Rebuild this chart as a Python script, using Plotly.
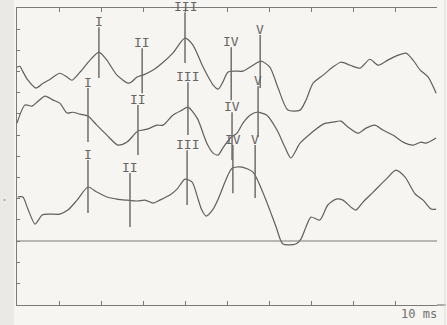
import plotly.graph_objects as go

# ---- waveform data: time (ms) and amplitude (divisions, baseline = 0) ----
t1 = [0.00, 0.07, 0.12, 0.26, 0.45, 0.62, 0.79, 1.02, 1.19, 1.31, 1.50, 1.74, 1.95, 2.14, 2.38,
      2.67, 2.86, 3.00, 3.24, 3.48, 3.71, 4.00, 4.19, 4.43, 4.67, 4.79, 4.90, 5.02, 5.21, 5.38,
      5.62, 5.81, 6.02, 6.21, 6.45, 6.74, 6.88, 7.05, 7.29, 7.52, 7.71, 7.93, 8.17, 8.40, 8.60,
      8.83, 9.02, 9.26, 9.43, 9.60, 9.79, 9.98]
a1 = [8.21, 8.25, 8.07, 7.59, 7.22, 7.45, 7.64, 7.92, 7.74, 7.59, 7.97, 8.54, 8.92, 8.54, 7.83,
      7.45, 7.74, 7.83, 8.07, 8.44, 8.87, 9.58, 9.25, 8.21, 7.36, 7.17, 7.50, 7.97, 8.02, 8.02,
      8.30, 8.49, 8.21, 7.26, 6.18, 6.18, 6.65, 7.45, 7.83, 8.21, 8.44, 8.30, 8.16, 8.58, 8.30,
      8.54, 8.73, 8.87, 8.54, 8.07, 7.74, 6.98]

t2 = [0.00, 0.19, 0.36, 0.48, 0.67, 0.86, 1.02, 1.19, 1.33, 1.50, 1.69, 1.90, 2.14, 2.40, 2.62,
      2.88, 3.10, 3.33, 3.48, 3.71, 3.93, 4.07, 4.29, 4.52, 4.67, 4.79, 4.90, 5.10, 5.24, 5.38,
      5.55, 5.71, 5.95, 6.19, 6.38, 6.52, 6.74, 7.00, 7.29, 7.52, 7.71, 7.88, 8.12, 8.31, 8.52,
      8.71, 8.95, 9.19, 9.43, 9.62, 9.74, 9.98]
a2 = [5.57, 6.42, 6.37, 6.56, 6.84, 6.65, 6.51, 6.04, 6.08, 5.99, 5.90, 5.47, 5.00, 4.53, 4.67,
      5.19, 5.28, 5.47, 5.47, 5.94, 6.18, 6.32, 5.80, 4.62, 4.15, 4.06, 4.39, 4.91, 5.09, 5.57,
      5.94, 6.08, 5.94, 5.24, 4.43, 3.92, 4.62, 5.09, 5.52, 5.61, 5.66, 5.38, 5.09, 5.33, 5.47,
      5.24, 5.00, 4.67, 4.53, 4.67, 4.62, 4.86]

t3 = [0.02, 0.14, 0.26, 0.43, 0.60, 0.79, 1.02, 1.21, 1.43, 1.69, 1.90, 2.14, 2.38, 2.62, 2.86,
      3.05, 3.24, 3.40, 3.64, 3.81, 4.00, 4.17, 4.29, 4.40, 4.50, 4.67, 4.83, 4.95, 5.12, 5.36,
      5.62, 5.83, 6.02, 6.17, 6.33, 6.64, 6.76, 6.88, 7.00, 7.21, 7.40, 7.60, 7.76, 7.95, 8.07,
      8.24, 8.48, 8.79, 9.02, 9.24, 9.48, 9.67, 9.86, 9.98]
a3 = [2.08, 2.08, 1.51, 0.80, 1.23, 1.27, 1.27, 1.46, 1.93, 2.55, 2.31, 2.08, 1.98, 1.93, 1.89,
      1.93, 1.79, 1.93, 2.17, 2.45, 2.92, 2.78, 2.12, 1.46, 1.18, 1.51, 2.17, 2.78, 3.44, 3.49,
      3.25, 2.41, 1.46, 0.66, -0.14, -0.14, 0.09, 0.66, 1.13, 0.99, 1.70, 1.98, 1.93, 1.60, 1.46,
      1.84, 2.31, 2.92, 3.35, 3.02, 2.22, 1.93, 1.51, 1.51]

# ---- wave markers (label, latency ms, marker top, marker bottom) ----
peak_labels = ["I", "II", "III", "IV", "V"]
m1_lat = [1.95, 2.98, 4.00, 5.10, 5.79]
m1_top = [10.09, 9.10, 10.80, 9.15, 9.72]
m1_bot = [7.69, 6.98, 8.40, 6.65, 7.22]
m2_lat = [1.69, 2.88, 4.07, 5.12, 5.74]
m2_top = [7.22, 6.42, 7.50, 6.08, 7.31]
m2_bot = [4.67, 4.06, 5.00, 3.82, 4.91]
m3_lat = [1.69, 2.69, 4.05, 5.14, 5.67]
m3_top = [3.82, 3.21, 4.29, 4.53, 4.53]
m3_bot = [1.32, 0.66, 1.70, 2.26, 2.03]

x_ticks = list(range(0, 11))
y_ticks = list(range(-3, 12))

CURVE = "#5f5f5f"
MARK = "#6e6e6e"
TXT = "#666666"
PAPER = "#f6f5f1"

fig = go.Figure()

for t, a in [(t1, a1), (t2, a2), (t3, a3)]:
    fig.add_trace(go.Scatter(x=t, y=a, mode="lines", line=dict(color=CURVE, width=1.2, shape="spline", smoothing=0.7),
                             hoverinfo="skip", showlegend=False))

annotations = []
for lat, top, bot in [(m1_lat, m1_top, m1_bot), (m2_lat, m2_top, m2_bot), (m3_lat, m3_top, m3_bot)]:
    xs, ys = [], []
    for lab, x, yt, yb in zip(peak_labels, lat, top, bot):
        xs += [x, x, None]
        ys += [yt, yb, None]
        annotations.append(dict(x=x, y=yt, xref="x", yref="y", text=lab, showarrow=False,
                                yanchor="bottom", xanchor="center", yshift=-4,
                                font=dict(family="DejaVu Sans Mono", size=13, color=TXT)))
    fig.add_trace(go.Scatter(x=xs, y=ys, mode="lines", line=dict(color=MARK, width=1.5),
                             hoverinfo="skip", showlegend=False))

annotations.append(dict(x=9.57, y=-0.03, xref="x", yref="paper", text="10 ms", showarrow=False,
                        xanchor="center", yanchor="middle",
                        font=dict(family="DejaVu Sans Mono", size=12, color="#707070")))

shapes = [
    # baseline
    dict(type="line", xref="x", yref="y", x0=0, x1=10, y0=0, y1=0, line=dict(color="#7a7a7a", width=1.2)),
    # left scanner strip
    dict(type="rect", xref="paper", yref="paper", x0=-17 / 420, x1=-3 / 420, y0=-20 / 297, y1=1 + 8 / 297,
         fillcolor="#eae9e6", line=dict(width=0), layer="below"),
    # bottom line extension
    dict(type="line", xref="paper", yref="paper", x0=1, x1=1 + 9 / 420, y0=0, y1=0, line=dict(color="#7a7a7a", width=1.2)),
    # paper edge at the right
    dict(type="line", xref="paper", yref="paper", x0=1 + 8 / 420, x1=1 + 8 / 420, y0=-20 / 297, y1=1 + 8 / 297,
         line=dict(color="#dedcd8", width=1)),
    # small speck in the left strip
    dict(type="circle", xref="paper", yref="paper", x0=-13.5 / 420, x1=-11.5 / 420, y0=(305 - 201) / 297, y1=(305 - 199) / 297,
         fillcolor="#9a9a9a", line=dict(width=0)),
]

fig.update_layout(
    width=447, height=325,
    margin=dict(l=17, r=10, t=8, b=20),
    paper_bgcolor=PAPER, plot_bgcolor=PAPER,
    showlegend=False,
    annotations=annotations,
    shapes=shapes,
)
fig.update_xaxes(range=[0, 10], tickvals=x_ticks, showticklabels=False, ticks="inside", ticklen=4,
                 tickcolor="#7a7a7a", showline=True, linecolor="#7a7a7a", linewidth=1.2, mirror="ticks",
                 showgrid=False, zeroline=False)
fig.update_yaxes(range=[-3.02, 11.0], tickvals=y_ticks, showticklabels=False, ticks="inside", ticklen=3,
                 tickcolor="#7a7a7a", showline=True, linecolor="#7a7a7a", linewidth=1.2, mirror=False,
                 showgrid=False, zeroline=False)

fig.write_html("out.html", config={"displayModeBar": False},
               post_script="document.body.style.margin='0px';document.body.style.overflow='hidden';")
